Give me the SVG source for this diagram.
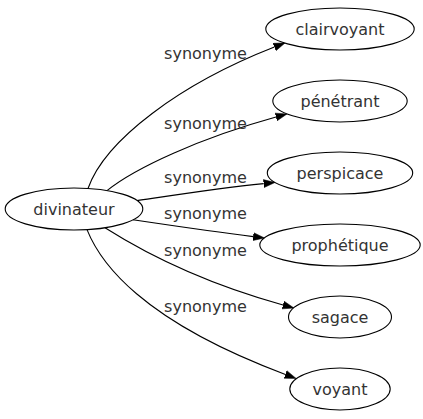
<svg xmlns="http://www.w3.org/2000/svg" width="423" height="419" viewBox="0 0 423 419">
<defs>
<style>
.node ellipse{fill:#ffffff;stroke:#000000;stroke-width:1.1}
.node text{font-family:"DejaVu Sans",sans-serif;font-size:16px;fill:#333333;text-anchor:middle}
.edges path{fill:none;stroke:#000000;stroke-width:1.1}
.edges text{font-family:"DejaVu Sans",sans-serif;font-size:16px;fill:#333333;text-anchor:middle}
</style>
<marker id="arr" markerUnits="userSpaceOnUse" markerWidth="12" markerHeight="9" refX="0" refY="4" orient="auto" viewBox="0 0 12 8">
<path d="M0,0 L11.4,4 L0,8 z" fill="#000000" stroke="#000000" stroke-width="0.5"/>
</marker>
</defs>
<rect width="423" height="419" fill="#ffffff"/>
<g id="connectors" class="edges">
<path d="M88,188.5 C105,140 180,84 274.4,47.1" marker-end="url(#arr)"/>
<text x="205.5" y="59">synonyme</text>
<path d="M107,190.6 C135,168 200,138 276,117" marker-end="url(#arr)"/>
<text x="205.5" y="129">synonyme</text>
<path d="M137,200.6 C175,195 220,188 263.7,183.6" marker-end="url(#arr)"/>
<text x="205.5" y="183">synonyme</text>
<path d="M133,219.8 C168,225 215,232 253.2,236.6" marker-end="url(#arr)"/>
<text x="205.5" y="219">synonyme</text>
<path d="M105,227.8 C140,250 200,282 283,305" marker-end="url(#arr)"/>
<text x="205.5" y="256">synonyme</text>
<path d="M87,229.6 C100,262 140,320 285.4,374.4" marker-end="url(#arr)"/>
<text x="205.5" y="312">synonyme</text>
</g>
<g id="divinateur" class="node">
<ellipse cx="74" cy="209" rx="68.8" ry="21"/>
<text x="74" y="214.5">divinateur</text>
</g>
<g id="clairvoyant" class="node">
<ellipse cx="340" cy="29" rx="74.2" ry="21"/>
<text x="340" y="34.5">clairvoyant</text>
</g>
<g id="penetrant" class="node">
<ellipse cx="340" cy="101" rx="67.2" ry="21"/>
<text x="340" y="106.5">pénétrant</text>
</g>
<g id="perspicace" class="node">
<ellipse cx="340" cy="173" rx="72.7" ry="21"/>
<text x="340" y="178.5">perspicace</text>
</g>
<g id="prophetique" class="node">
<ellipse cx="340" cy="245" rx="80.2" ry="21"/>
<text x="340" y="250.5">prophétique</text>
</g>
<g id="sagace" class="node">
<ellipse cx="340" cy="317" rx="51.5" ry="21"/>
<text x="340" y="322.5">sagace</text>
</g>
<g id="voyant" class="node">
<ellipse cx="340" cy="389" rx="50.2" ry="21"/>
<text x="340" y="394.5">voyant</text>
</g>
</svg>
